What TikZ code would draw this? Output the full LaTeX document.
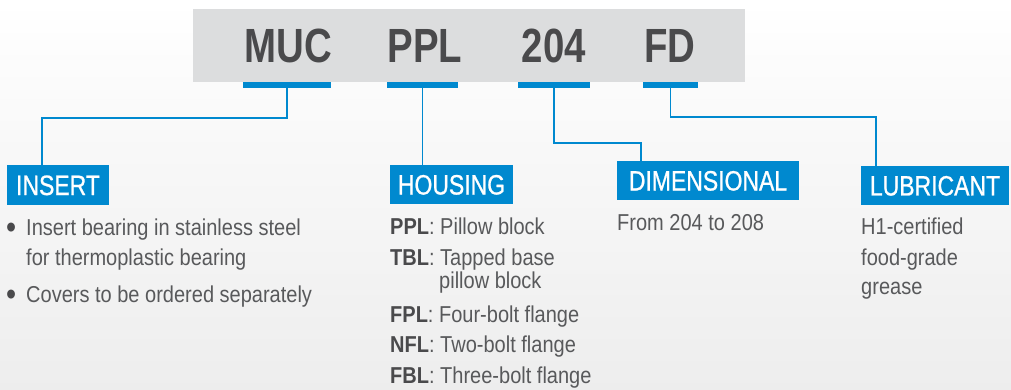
\documentclass[tikz,border=0pt]{standalone}
\usepackage{fontspec}
\setmainfont{Liberation Sans}
\newfontfamily\bodyf[FakeStretch=0.87]{Liberation Sans}
\newfontfamily\labf[FakeStretch=0.82,FakeBold=0.8]{Liberation Sans}
\newfontfamily\codef[FakeStretch=0.8]{Liberation Sans}
\definecolor{bblue}{HTML}{0089CF}
\definecolor{codegray}{HTML}{4A4A4C}
\definecolor{bodygray}{HTML}{58595B}
\definecolor{boxgray}{HTML}{DCDDDE}
\tikzset{
  code/.style={anchor=base, inner sep=0pt, text=codegray, font=\codef\bfseries\fontsize{48}{50}\selectfont},
  bar/.style={fill=bblue, inner sep=0pt, minimum height=6pt, anchor=north},
  conn/.style={draw=bblue, line width=1.6pt},
  lab/.style={fill=bblue, text=white, inner sep=0pt, text height=20pt, text depth=0pt, font=\labf\fontsize{28}{30}\selectfont},
  body/.style={anchor=base west, inner sep=0pt, text=bodygray, font=\bodyf\fontsize{23}{27}\selectfont},
  bul/.style={anchor=base west, inner sep=0pt, text=codegray, font=\bodyf\fontsize{33}{35}\selectfont},
}
\begin{document}
\begin{tikzpicture}[x=1pt,y=-1pt]
\shade[top color=white, bottom color=black!7] (0,0) rectangle (1011,390);
\useasboundingbox (0,0) rectangle (1011,390);
% grey code box
\node[fill=boxgray, inner sep=0pt, minimum width=552pt, minimum height=73pt] (codebox) at (469,45.5) {};
\node[code] (muc) at (288.5,63) {MUC};
\node[code] (ppl) at (425,63) {PPL};
\node[code] (dim) at (554,63) {204};
\node[code] (fd)  at (670,63) {FD};
% bars
\node[bar, minimum width=88pt] (mucbar) at (287,82) {};
\node[bar, minimum width=71pt] (pplbar) at (422.5,82) {};
\node[bar, minimum width=72pt] (dimbar) at (554,82) {};
\node[bar, minimum width=55pt] (fdbar)  at (670.5,82) {};
% label boxes
\node[lab, minimum width=102pt, minimum height=40pt] (insert) at (58,185) {INSERT};
\node[lab, minimum width=123pt, minimum height=39pt] (housing) at (451.5,184.5) {HOUSING};
\node[lab, minimum width=182pt, minimum height=39pt] (dimensional) at (708,180.5) {DIMENSIONAL};
\node[lab, minimum width=148pt, minimum height=39pt] (lubricant) at (935,185.5) {LUBRICANT};
% connectors
\coordinate (k1) at (42,118);
\coordinate (k2) at (641,143);
\coordinate (k3) at (876,117);
\draw[conn] (mucbar.south) |- (k1) -- (k1 |- insert.north);
\draw[conn] (pplbar.south) -- (pplbar.south |- housing.north);
\draw[conn] (dimbar.south) |- (k2) -- (k2 |- dimensional.north);
\draw[conn] (fdbar.south) |- (k3) -- (k3 |- lubricant.north);
% insert text
\node[bul] (b1) at (6,238) {•};
\node[body] (i1) at (26,235) {Insert bearing in stainless steel};
\node[body] (i2) at (26,265) {for thermoplastic bearing};
\node[bul] (b2) at (6,305) {•};
\node[body] (i3) at (26,302) {Covers to be ordered separately};
% housing text
\node[body] (h1) at (390,234) {\textbf{\color{codegray}PPL}: Pillow block};
\node[body] (h2) at (390,265) {\textbf{\color{codegray}TBL}: Tapped base};
\node[body] (h2b) at (439,288) {pillow block};
\node[body] (h3) at (390,322) {\textbf{\color{codegray}FPL}: Four-bolt flange};
\node[body] (h4) at (390,352) {\textbf{\color{codegray}NFL}: Two-bolt flange};
\node[body] (h5) at (390,383) {\textbf{\color{codegray}FBL}: Three-bolt flange};
% dimensional text
\node[body] (d1) at (617,230) {From 204 to 208};
% lubricant text
\node[body] (l1) at (861,234) {H1-certified};
\node[body] (l2) at (861,265) {food-grade};
\node[body] (l3) at (861,294) {grease};
\end{tikzpicture}
\end{document}
